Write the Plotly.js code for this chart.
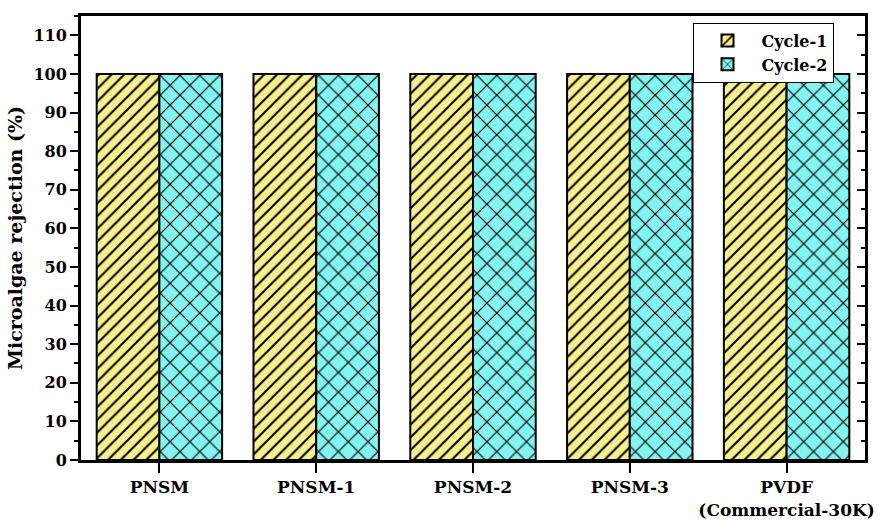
<!DOCTYPE html>
<html>
<head>
<meta charset="utf-8">
<script src="https://cdn.plot.ly/plotly-3.0.1.min.js"></script>
<style>
  html, body { margin: 0; padding: 0; background: #fff; }
  #chart { width: 892px; height: 521px; }
</style>
</head>
<body>
<div id="chart"></div>
<script>
var membranes = ['PNSM', 'PNSM-1', 'PNSM-2', 'PNSM-3', 'PVDF']
var membraneLabels = ['PNSM', 'PNSM-1', 'PNSM-2', 'PNSM-3', 'PVDF<br>(Commercial-30K)']
var cycle1 = [100, 100, 100, 100, 100]
var cycle2 = [100, 100, 100, 100, 100]

var serif = 'DejaVu Serif'

var trace1 = {
    x: membranes,
    y: cycle1,
    name: 'Cycle-1',
    type: 'bar',
    marker: {
        color: '#f7f08c',
        line: { color: '#000', width: 2 },
        pattern: { shape: '/', fgcolor: '#000', bgcolor: '#f7f08c', size: 9, solidity: 0.22 }
    }
}
var trace2 = {
    x: membranes,
    y: cycle2,
    name: 'Cycle-2',
    type: 'bar',
    marker: {
        color: '#84f4f0',
        line: { color: '#000', width: 2 },
        pattern: { shape: 'x', fgcolor: '#000', bgcolor: '#84f4f0', size: 14, solidity: 0.16 }
    }
}
// invisible helper so the right-hand axis with inside ticks gets drawn
var rightAxis = {
    x: membranes,
    y: cycle1,
    yaxis: 'y2',
    type: 'scatter',
    mode: 'none',
    showlegend: false,
    hoverinfo: 'skip'
}

var layout = {
    width: 892,
    height: 521,
    margin: { l: 81, r: 27, t: 16, b: 61 },
    paper_bgcolor: '#fff',
    plot_bgcolor: '#fff',
    barmode: 'group',
    bargap: 0.2,
    bargroupgap: 0,
    font: { family: serif, color: '#000', size: 15, weight: 'bold' },
    xaxis: {
        type: 'category',
        tickmode: 'array',
        tickvals: membranes,
        ticktext: membraneLabels,
        range: [-0.5, 4.5],
        showline: true,
        linecolor: '#000',
        linewidth: 3,
        mirror: true,
        ticks: 'outside',
        ticklen: 10,
        tickwidth: 2,
        tickcolor: '#000',
        tickfont: { family: serif, size: 17, weight: 'bold' },
        showgrid: false,
        zeroline: false
    },
    yaxis: {
        range: [0, 115],
        dtick: 10,
        tick0: 0,
        showline: true,
        linecolor: '#000',
        linewidth: 3,
        mirror: true,
        ticks: 'outside',
        ticklen: 8,
        tickwidth: 2,
        tickcolor: '#000',
        minor: { dtick: 5, ticks: 'outside', ticklen: 4, tickwidth: 2, tickcolor: '#000' },
        tickfont: { family: serif, size: 16, weight: 'bold' },
        showgrid: false,
        zeroline: false,
        title: { text: 'Microalgae rejection (%)', font: { family: serif, size: 19, weight: 'bold' }, standoff: 6 }
    },
    yaxis2: {
        overlaying: 'y',
        side: 'right',
        range: [0, 115],
        dtick: 10,
        tick0: 0,
        ticks: 'inside',
        ticklen: 8,
        tickwidth: 2,
        tickcolor: '#000',
        minor: { dtick: 5, ticks: 'inside', ticklen: 4, tickwidth: 2, tickcolor: '#000' },
        showticklabels: false,
        showgrid: false,
        zeroline: false,
        showline: false
    },
    legend: {
        x: 0.780,
        y: 0.985,
        xanchor: 'left',
        yanchor: 'top',
        bgcolor: '#fff',
        bordercolor: '#000',
        borderwidth: 1,
        tracegroupgap: 0,
        itemwidth: 58,
        font: { family: serif, size: 16, weight: 'bold' }
    },
    showlegend: true
}

Plotly.newPlot('chart', [trace1, trace2, rightAxis], layout, { displayModeBar: false, staticPlot: true })
</script>
</body>
</html>
